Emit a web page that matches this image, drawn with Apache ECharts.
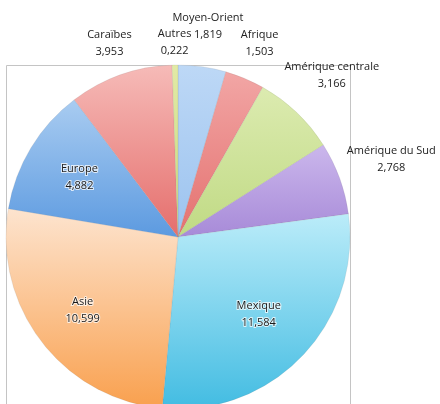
<!DOCTYPE html>
<html>
<head>
<meta charset="utf-8">
<script src="https://cdn.jsdelivr.net/npm/echarts@6/dist/echarts.min.js"></script>
<style>
html,body{margin:0;padding:0;background:#fff;}
#chart{width:440px;height:404px;}
</style>
</head>
<body>
<div id="chart"></div>
<script>
// ---- data ----
var categories = ['Moyen-Orient', 'Afrique', 'Amérique centrale', 'Amérique du Sud', 'Mexique', 'Asie', 'Europe', 'Caraïbes', 'Autres'];
var values = [1.819, 1.503, 3.166, 2.768, 11.584, 10.599, 4.882, 3.953, 0.222];

// ---- styles ----
var CX = 178, CY = 237, R = 172;
var gradTop = ['#bdd8f6', '#f2a6a5', '#dcebb0', '#cbb7ec', '#bbecf9', '#fde4cf', '#a9ccf1', '#f6bbb8', '#e2eaa6'];
var gradBot = ['#9cc3ef', '#e4716f', '#c0da84', '#a78ad8', '#42bce2', '#f9a04e', '#5c9ae0', '#e56e6c', '#c6da7e'];
var insideSet = {'Mexique': 1, 'Asie': 1, 'Europe': 1};
var insideFactor = {'Mexique': 0.65, 'Asie': 0.70, 'Europe': 0.67};
var outsideExtra = {'Moyen-Orient': 41, 'Afrique': 38, 'Amérique centrale': 51, 'Amérique du Sud': 55, 'Caraïbes': 33, 'Autres': 23};

function fmt(v) { return v.toFixed(3).replace('.', ','); }

var seriesData = categories.map(function (name, i) {
  return {
    name: name,
    value: values[i],
    itemStyle: {
      color: new echarts.graphic.LinearGradient(0, 0, 0, 1, [
        {offset: 0, color: gradTop[i]},
        {offset: 1, color: gradBot[i]}
      ])
    },
    label: insideSet[name] ? {
      color: '#1a1a1a',
      textBorderColor: 'rgba(255,255,255,0.75)',
      textBorderWidth: 2
    } : {
      color: '#222'
    }
  };
});

var chart = echarts.init(document.getElementById('chart'), null, {renderer: 'canvas'});
chart.setOption({
  backgroundColor: '#fff',
  animation: false,
  graphic: [{
    type: 'rect',
    z: -10,
    silent: true,
    shape: {x: CX - R + 0.5, y: CY - R + 0.5, width: 2 * R, height: 2 * R},
    style: {fill: 'none', stroke: '#c4c4c4', lineWidth: 1}
  }],
  series: [{
    type: 'pie',
    center: [CX, CY],
    radius: [0, R],
    startAngle: 90,
    clockwise: true,
    avoidLabelOverlap: false,
    data: seriesData,
    itemStyle: {borderColor: 'rgba(120,120,120,0.25)', borderWidth: 0.5},
    label: {
      show: true,
      position: 'inside',
      fontFamily: 'Open Sans',
      fontSize: 11,
      lineHeight: 17,
      align: 'center',
      formatter: function (p) { return p.name + '\n' + fmt(p.value); }
    },
    labelLine: {show: false},
    emphasis: {disabled: true},
    labelLayout: function (p) {
      var name = categories[p.dataIndex];
      var lr = p.labelRect;
      var lx = lr.x + lr.width / 2, ly = lr.y + lr.height / 2;
      var dx = lx - CX, dy = ly - CY;
      var d = Math.sqrt(dx * dx + dy * dy) || 1;
      var target = insideSet[name] ? R * insideFactor[name] : R + outsideExtra[name];
      return {
        x: CX + dx / d * target,
        y: CY + dy / d * target,
        align: 'center',
        verticalAlign: 'middle'
      };
    }
  }]
});
</script>
</body>
</html>
